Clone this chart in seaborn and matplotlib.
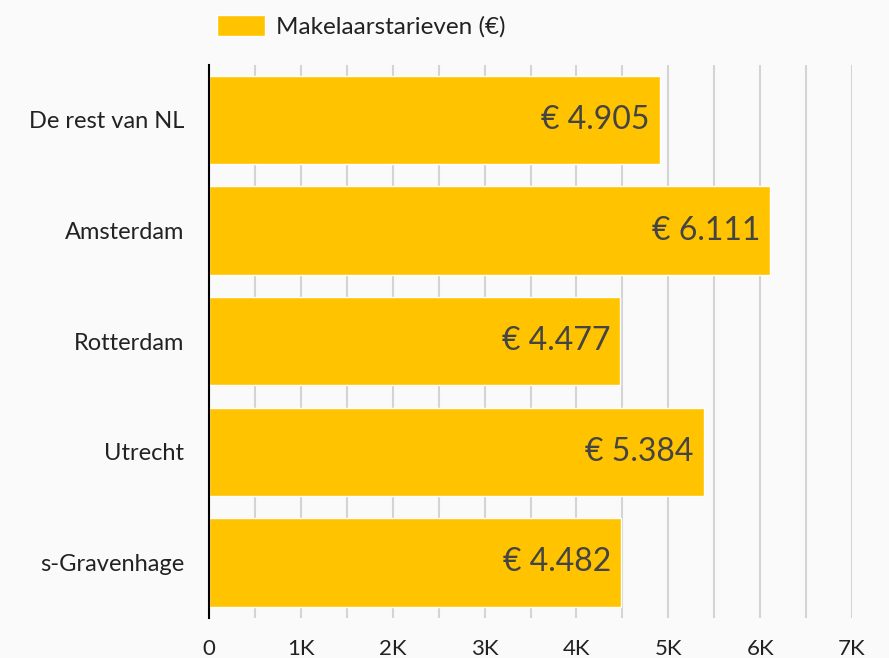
import matplotlib
matplotlib.use("Agg")
import matplotlib.pyplot as plt
import seaborn as sns
from matplotlib.ticker import FuncFormatter, MultipleLocator

# data
steden = ["De rest van NL", "Amsterdam", "Rotterdam", "Utrecht", "s-Gravenhage"]
tarieven = [4905, 6111, 4477, 5384, 4482]
reeks_naam = "Makelaarstarieven (€)"

geel = "#FFC300"
tekst = "#444444"

sns.set_style("white")
plt.rcParams["font.family"] = ["Lato", "DejaVu Sans"]

fig = plt.figure(figsize=(8.89, 6.58), dpi=100, facecolor="#fafafa")
ax = fig.add_axes([0.2351, 0.0611, 0.7233, 0.8406])
ax.set_facecolor("none")

sns.barplot(x=tarieven, y=steden, color=geel, saturation=1, width=0.8,
            orient="h", label=reeks_naam, ax=ax, zorder=3)

# labels in de balken
labels = ["€ " + f"{v:,}".replace(",", ".") for v in tarieven]
txts = ax.bar_label(ax.containers[0], labels=labels, padding=-7,
                    fontsize=23, color=tekst)
for t in txts:
    t.set_ha("right")

ax.set_xlim(0, 7000)
ax.xaxis.set_major_locator(MultipleLocator(1000))
ax.xaxis.set_minor_locator(MultipleLocator(500))
ax.xaxis.set_major_formatter(FuncFormatter(lambda v, p: "0" if v == 0 else f"{int(v/1000)}K"))
ax.grid(axis="x", which="both", color="#d4d4d4", linewidth=1.5, zorder=0)
ax.set_axisbelow(True)

ax.tick_params(axis="both", length=0, colors="#222222")
ax.tick_params(axis="y", pad=18, labelsize=17)
ax.tick_params(axis="x", pad=15, labelsize=16)
ax.set_xlabel("")
ax.set_ylabel("")

for s in ["top", "right", "bottom"]:
    ax.spines[s].set_visible(False)
ax.spines["left"].set_color("black")
ax.spines["left"].set_linewidth(1.5)
ax.spines["left"].set_zorder(4)

leg = ax.legend(loc="upper left", bbox_to_anchor=(0.228, 1.0), bbox_transform=fig.transFigure,
                frameon=False, fontsize=17.5, handlelength=1.95, handleheight=1.0,
                handletextpad=0.45, borderaxespad=0.2)
for t in leg.get_texts():
    t.set_color("#222222")

fig.savefig("out.png", dpi=100, facecolor=fig.get_facecolor())
